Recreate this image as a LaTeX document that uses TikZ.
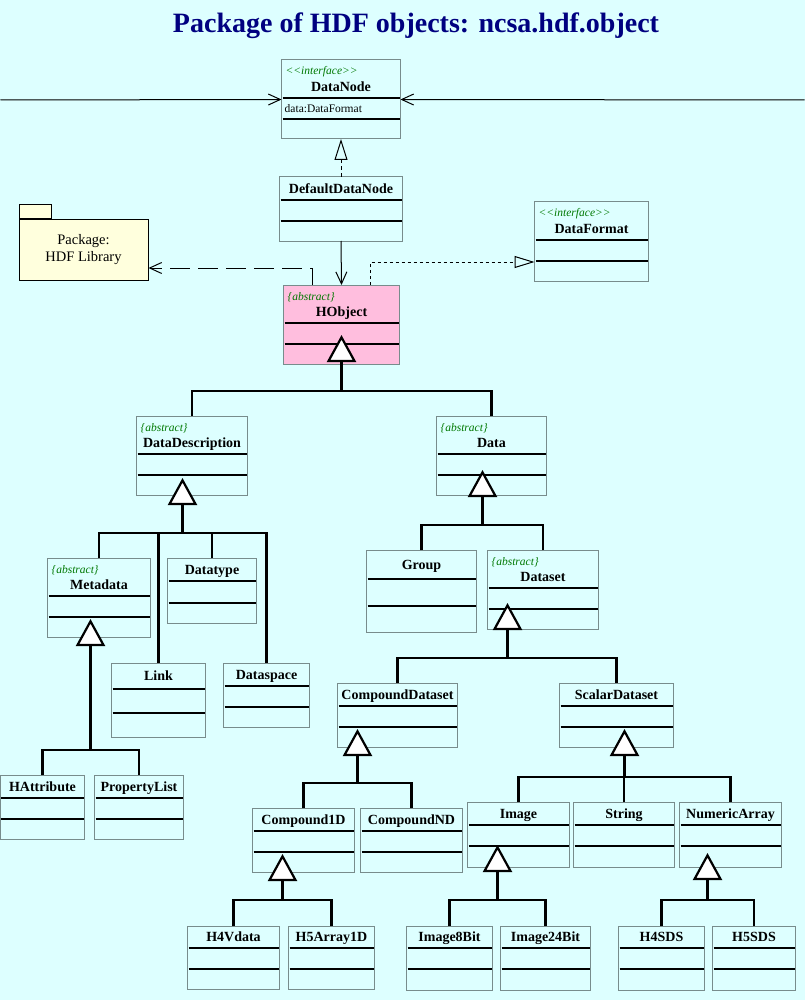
\documentclass[tikz,border=0pt]{standalone}
\usepackage{fontspec}
\setmainfont{Liberation Serif}
\usetikzlibrary{calc,arrows.meta}

\begin{document}
\begin{tikzpicture}[x=1pt,y=-1pt]
        %%colours
        \definecolor{bg_color}{RGB}{221,255,255}
        \definecolor{border_color}{RGB}{120,140,140}
        \definecolor{title_color}{RGB}{0,0,128}
        \definecolor{stereo_color}{RGB}{0,120,0}
        \definecolor{hobj_color}{RGB}{255,190,222}
        \definecolor{pkg_color}{RGB}{255,255,221}

        %%styles
        \tikzset{classbox/.style = {draw=border_color, line width=1pt, inner sep=0, outer sep=0}}
        \tikzset{compart/.style = {line width=2pt}}
        \tikzset{classname/.style = {font=\fontsize{14}{16}\selectfont\bfseries, inner sep=0, text height=9.5pt, text depth=0pt}}
        \tikzset{stereo/.style = {font=\fontsize{11.5}{13}\selectfont\itshape, text=stereo_color, inner sep=0, anchor=west, text height=8pt, text depth=0pt}}
        \tikzset{attr/.style = {font=\fontsize{11.5}{13}\selectfont, inner sep=0, anchor=west, text height=8pt, text depth=0pt}}
        \tikzset{tree/.style = {line width=2.4pt}}
        \tikzset{inherit/.style = {line width=2.2pt, -{Triangle[length=27pt,width=29pt,fill=white]}}}
        \tikzset{assoc/.style = {line width=1pt, -{Straight Barb[length=12pt,width=11pt]}}}
        \tikzset{realize/.style = {line width=1pt, dash pattern=on 4pt off 3pt, -{Triangle[open,length=21pt,width=13pt]}}}
        \tikzset{implement/.style = {line width=1pt, dash pattern=on 3pt off 3pt, -{Triangle[open,length=20pt,width=12pt]}}}
        \tikzset{depend/.style = {line width=1pt, dash pattern=on 20pt off 8pt, -{Straight Barb[length=12pt,width=11pt]}}}

        %%class boxes
        %[fill]{name}{x1}{y1}{x2}{y2}{line1}{line2}{title}
        \newcommand{\plainclass}[9][bg_color]{%
            \node[classbox, fill=#1, minimum width={#5-#3}, minimum height={#6-#4}, anchor=north west] (#2) at (#3,#4) {};
            \draw[compart] ($(#2.north west)+(1,#7)$) -- ($(#2.north east)+(-1,#7)$);
            \draw[compart] ($(#2.north west)+(1,#8)$) -- ($(#2.north east)+(-1,#8)$);
            \node[classname] (#2-name) at ($(#2.north)+(0,#7/2)$) {#9};}
        %[fill]{name}{x1}{y1}{x2}{y2}{stereotype}{title}
        \newcommand{\stereoclass}[8][bg_color]{%
            \node[classbox, fill=#1, minimum width={#5-#3}, minimum height={#6-#4}, anchor=north west] (#2) at (#3,#4) {};
            \draw[compart] ($(#2.north west)+(1,38)$) -- ($(#2.north east)+(-1,38)$);
            \draw[compart] ($(#2.north west)+(1,59)$) -- ($(#2.north east)+(-1,59)$);
            \node[stereo] (#2-stereo) at ($(#2.north west)+(4,11)$) {#7};
            \node[classname] (#2-name) at ($(#2.north)+(0,27)$) {#8};}

        %%background
        \fill[bg_color] (0,0) rectangle (804,1000);
        \node[font=\fontsize{28}{32}\selectfont\bfseries, text=title_color, anchor=base, inner sep=0] (title) at (415.5,33) {Package of HDF objects: ncsa.hdf.object};

        %%top part
        \stereoclass{DataNode}{281}{60}{400}{139}{<{}<interface>{}>}{DataNode}
        \node[attr] (DataNode-attr) at ($(DataNode.north west)+(3,48.5)$) {data:DataFormat};
        \plainclass{DefaultDataNode}{279}{177}{402}{241}{23}{44}{DefaultDataNode}
        \stereoclass{DataFormat}{534}{202}{648}{281}{<{}<interface>{}>}{DataFormat}
        \stereoclass[hobj_color]{HObject}{283}{285}{399}{364}{\{abstract\}}{HObject}
        %package
        \node[draw, line width=1pt, fill=pkg_color, minimum width=129, minimum height=61, anchor=north west, inner sep=0, align=center, font=\fontsize{14.5}{17}\selectfont] (hdfpkg) at (18,219) {Package:\\HDF Library};
        \node[draw, line width=1pt, fill=pkg_color, minimum width=32, minimum height=14, anchor=south west, inner sep=0] (hdfpkg-tab) at (hdfpkg.north west) {};

        %%DataDescription branch
        \stereoclass{DataDescription}{136}{416}{247}{495}{\{abstract\}}{DataDescription}
        \stereoclass{Metadata}{47}{558}{150}{637}{\{abstract\}}{Metadata}
        \plainclass{Datatype}{167}{558}{256}{623}{23}{45}{Datatype}
        \plainclass{Link}{111}{663}{205}{737}{26}{50}{Link}
        \plainclass{Dataspace}{223}{663}{309}{727}{23}{44}{Dataspace}
        \plainclass{HAttribute}{0}{775}{84}{839}{23}{44}{HAttribute}
        \plainclass{PropertyList}{94}{775}{183}{839}{23}{44}{PropertyList}

        %%Data branch
        \stereoclass{Data}{436}{416}{546}{495}{\{abstract\}}{Data}
        \plainclass{Group}{366}{550}{476}{632}{29}{56}{Group}
        \stereoclass{Dataset}{487}{550}{598}{629}{\{abstract\}}{Dataset}
        \plainclass{CompoundDataset}{337}{683}{457}{747}{23}{44}{CompoundDataset}
        \plainclass{ScalarDataset}{559}{683}{673}{747}{23}{44}{ScalarDataset}
        \plainclass{Compound1D}{252}{808}{354}{872}{23}{44}{Compound1D}
        \plainclass{CompoundND}{360}{808}{462}{872}{23}{44}{CompoundND}
        \plainclass{Image}{467}{802}{569}{867}{23}{44}{Image}
        \plainclass{String}{573}{802}{674}{867}{23}{44}{String}
        \plainclass{NumericArray}{679}{802}{781}{867}{23}{44}{NumericArray}
        \plainclass{H4Vdata}{187}{926}{279}{989}{22}{43}{H4Vdata}
        \plainclass{H5Array1D}{288}{926}{374}{989}{22}{43}{H5Array1D}
        \plainclass{Image8Bit}{406}{926}{492}{990}{22}{43}{Image8Bit}
        \plainclass{Image24Bit}{500}{926}{590}{990}{22}{43}{Image24Bit}
        \plainclass{H4SDS}{618}{926}{704}{990}{22}{43}{H4SDS}
        \plainclass{H5SDS}{712}{926}{795}{990}{22}{43}{H5SDS}

        %%associations, realizations, dependency
        \coordinate (leftend) at (0,100);
        \coordinate (rightend) at (804,100);
        \draw[assoc] (leftend) -- (DataNode.west);
        \draw[assoc] (rightend) -- (DataNode.east);
        \draw[realize] (DefaultDataNode.north) -- (DataNode.south);
        \draw[assoc] (DefaultDataNode.south) -- (HObject.north);
        \draw[depend] ([xshift=-29pt]HObject.north) |- ([yshift=13pt]hdfpkg.south east);
        \draw[implement] ([xshift=29pt]HObject.north) |- ([yshift=19pt]DataFormat.south west);

        %%generalizations
        \coordinate (hobj-tip) at (341,335);   \coordinate (hobj-bar) at (341,391);
        \coordinate (desc-tip) at (182,478);   \coordinate (desc-bar) at (182,533);
        \coordinate (meta-tip) at (90,619);    \coordinate (meta-bar) at (90,750);
        \coordinate (data-tip) at (482,470);   \coordinate (data-bar) at (482,525);
        \coordinate (dset-tip) at (507,603);   \coordinate (dset-bar) at (507,658);
        \coordinate (cmpd-tip) at (357,729);   \coordinate (cmpd-bar) at (357,783);
        \coordinate (scal-tip) at (624,729);   \coordinate (scal-bar) at (624,777);
        \coordinate (c1d-tip) at (282,854);    \coordinate (c1d-bar) at (282,900);
        \coordinate (img-tip) at (497,845);    \coordinate (img-bar) at (497,900);
        \coordinate (num-tip) at (707,853);    \coordinate (num-bar) at (707,900);

        \foreach \child in {DataDescription,Data}
            \draw[tree] (\child.north) |- (hobj-bar);
        \foreach \child in {Metadata,Link,Datatype,Dataspace}
            \draw[tree] (\child.north) |- (desc-bar);
        \foreach \child in {HAttribute,PropertyList}
            \draw[tree] (\child.north) |- (meta-bar);
        \foreach \child in {Group,Dataset}
            \draw[tree] (\child.north) |- (data-bar);
        \foreach \child in {CompoundDataset,ScalarDataset}
            \draw[tree] (\child.north) |- (dset-bar);
        \foreach \child in {Compound1D,CompoundND}
            \draw[tree] (\child.north) |- (cmpd-bar);
        \foreach \child in {Image,String,NumericArray}
            \draw[tree] (\child.north) |- (scal-bar);
        \foreach \child in {H4Vdata,H5Array1D}
            \draw[tree] (\child.north) |- (c1d-bar);
        \foreach \child in {Image8Bit,Image24Bit}
            \draw[tree] (\child.north) |- (img-bar);
        \foreach \child in {H4SDS,H5SDS}
            \draw[tree] (\child.north) |- (num-bar);

        \foreach \parent in {hobj,desc,meta,data,dset,cmpd,scal,c1d,img,num}
            \draw[inherit] (\parent-bar) -- (\parent-tip);

\end{tikzpicture}
\end{document}
